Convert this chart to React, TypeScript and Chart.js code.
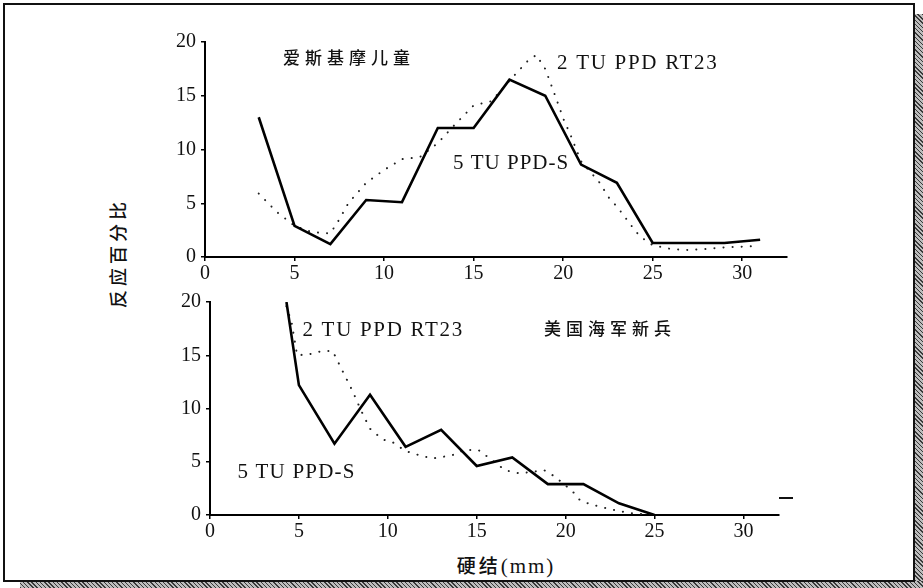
import React, { useEffect, useRef } from "react";
import { Chart, registerables } from "chart.js";

Chart.register(...registerables);

// ---------- data ----------
// Upper panel: Eskimo children
const topSolidX = [3, 5, 7, 9, 11, 13, 15, 17, 19, 21, 23, 25, 27, 29, 31];
const topSolidY = [13, 2.9, 1.2, 5.3, 5.1, 12, 12, 16.5, 15, 8.6, 6.9, 1.3, 1.3, 1.3, 1.6];
const topDotX = [3, 4, 5, 6, 7, 7.5, 8, 9, 10, 11, 12, 13, 14, 15, 16, 17, 18, 18.5, 19, 19.6, 20, 20.4, 21, 22, 22.6, 23, 23.5, 24, 24.3, 25, 26, 27, 28, 29, 30.5];
const topDotY = [5.9, 4.2, 2.9, 2.3, 2.2, 3.5, 5.0, 6.9, 8.1, 9.1, 9.3, 10.6, 12.4, 14.1, 14.5, 16.4, 18.2, 18.8, 17.5, 14.8, 12.9, 11.4, 8.9, 7.0, 5.4, 4.7, 3.6, 2.5, 1.9, 1.1, 0.75, 0.65, 0.75, 0.9, 1.0];

// Lower panel: US Navy recruits
const botSolidX = [4.3, 5, 7, 9, 11, 13, 15, 17, 19, 21, 23, 25];
const botSolidY = [20, 12.2, 6.7, 11.3, 6.4, 8, 4.6, 5.4, 2.9, 2.9, 1.1, 0];
const botDotX = [4.3, 4.6, 4.9, 5.6, 6.3, 6.9, 7.4, 8, 8.5, 9, 9.7, 10.3, 11, 11.8, 12.5, 13.6, 14.3, 15.1, 15.9, 16.6, 17.4, 18.1, 18.8, 19.4, 20.4, 20.8, 21.4, 22.5, 23.5, 25];
const botDotY = [19.6, 18, 15, 15.1, 15.4, 15.4, 13.7, 11.7, 9.8, 8.1, 7.1, 6.8, 6.0, 5.6, 5.3, 5.6, 6.1, 6.1, 5.1, 4.2, 3.9, 4.05, 4.2, 3.6, 2.2, 1.4, 1.0, 0.55, 0.2, 0];

const xTicks = [0, 5, 10, 15, 20, 25, 30];
const yTicks = [0, 5, 10, 15, 20];

const seriesSolid = "5 TU PPD-S";
const seriesDot = "2 TU PPD RT23";
const topTitle = "爱斯基摩儿童";
const botTitle = "美国海军新兵";
const yTitle = "反应百分比";
const xTitle = "硬结";
const xUnit = "(mm)";

// annotations in data coordinates
const topNotes = [
  { text: topTitle, x: 4.36, y: 18.6, cjk: true, sp: 5 },
  { text: seriesDot, x: 19.66, y: 18.0, cjk: false, sp: 1.7 },
  { text: seriesSolid, x: 13.85, y: 8.66, cjk: false, sp: 1 },
];
const botNotes = [
  { text: seriesDot, x: 5.2, y: 17.3, cjk: false, sp: 1.7 },
  { text: botTitle, x: 18.78, y: 17.5, cjk: true, sp: 5 },
  { text: seriesSolid, x: 1.54, y: 4.0, cjk: false, sp: 1.2 },
];

const SERIF = "'Liberation Serif', 'DejaVu Serif', serif";
const CJK = "'Noto Sans CJK SC', sans-serif";

const zip = (xs: number[], ys: number[]) => xs.map((x, i) => ({ x, y: ys[i] }));

const notesPlugin = {
  id: "notes",
  afterDatasetsDraw(chart: any, _args: any, opts: any) {
    const ctx = chart.ctx;
    const xs = chart.scales.x;
    const ys = chart.scales.y;
    ctx.save();
    ctx.fillStyle = "#111";
    ctx.textBaseline = "middle";
    ctx.textAlign = "left";
    for (const n of opts.items || []) {
      ctx.font = n.cjk ? `500 17px ${CJK}` : `21px ${SERIF}`;
      (ctx as any).letterSpacing = `${n.sp}px`;
      ctx.fillText(n.text, xs.getPixelForValue(n.x), ys.getPixelForValue(n.y));
    }
    ctx.restore();
  },
};

function makeConfig(solid: any[], dots: any[], xMax: number, pad: any, notes: any[]) {
  return {
    type: "line" as const,
    data: {
      datasets: [
        {
          label: seriesSolid,
          data: solid,
          borderColor: "#000",
          borderWidth: 2.6,
          pointRadius: 0,
          tension: 0,
          fill: false,
        },
        {
          label: seriesDot,
          data: dots,
          borderColor: "#222",
          borderWidth: 2,
          borderDash: [0.1, 9],
          borderCapStyle: "round",
          pointRadius: 0,
          tension: 0,
          fill: false,
        },
      ],
    },
    options: {
      animation: false,
      responsive: false,
      maintainAspectRatio: false,
      layout: { padding: pad },
      plugins: {
        legend: { display: false },
        tooltip: { enabled: false },
        notes: { items: notes },
      },
      scales: {
        x: {
          type: "linear",
          min: 0,
          max: xMax,
          afterBuildTicks: (s: any) => {
            s.ticks = xTicks.map((v) => ({ value: v }));
          },
          afterFit: (s: any) => {
            s.height = 30;
          },
          ticks: {
            color: "#111",
            font: { family: SERIF, size: 20 },
            padding: 1,
            maxRotation: 0,
            autoSkip: false,
          },
          grid: { drawOnChartArea: false, drawTicks: true, tickLength: 4, color: "#000", lineWidth: 1.5 },
          border: { display: true, color: "#000", width: 2 },
        },
        y: {
          type: "linear",
          min: 0,
          max: 20,
          afterBuildTicks: (s: any) => {
            s.ticks = yTicks.map((v) => ({ value: v }));
          },
          afterFit: (s: any) => {
            s.width = 50;
          },
          ticks: {
            color: "#111",
            font: { family: SERIF, size: 20 },
            padding: 5,
          },
          grid: { drawOnChartArea: false, drawTicks: true, tickLength: 4, color: "#000", lineWidth: 1.5 },
          border: { display: true, color: "#000", width: 2 },
        },
      },
    },
    plugins: [notesPlugin],
  };
}

function Panel(props: { left: number; top: number; width: number; height: number; cfg: any }) {
  const ref = useRef<HTMLCanvasElement | null>(null);
  useEffect(() => {
    if (!ref.current) return;
    const chart = new Chart(ref.current, props.cfg);
    return () => chart.destroy();
  }, []);
  return (
    <canvas
      ref={ref}
      width={props.width}
      height={props.height}
      style={{ position: "absolute", left: props.left, top: props.top, width: props.width, height: props.height }}
    />
  );
}

const hatch = "repeating-linear-gradient(45deg, #3a3a3a 0px, #3a3a3a 1px, #bdbdbd 1px, #bdbdbd 3px)";

export default function App() {
  const topCfg = makeConfig(zip(topSolidX, topSolidY), zip(topDotX, topDotY), 32.5, { left: 5, top: 15, right: 23, bottom: 3 }, topNotes);
  const botCfg = makeConfig(zip(botSolidX, botSolidY), zip(botDotX, botDotY), 32, { left: 5, top: 16, right: 26, bottom: 5 }, botNotes);
  return (
    <div style={{ position: "absolute", left: 0, top: 0, width: 923, height: 588, background: "#fff", overflow: "hidden" }}>
      <div style={{ position: "absolute", left: 914, top: 14, width: 9, height: 574, background: hatch }} />
      <div style={{ position: "absolute", left: 20, top: 581, width: 903, height: 7, background: hatch }} />
      <div style={{ position: "absolute", left: 3, top: 3, width: 908, height: 575, border: "2px solid #111" }} />
      <Panel left={150} top={25} width={660} height={265} cfg={topCfg} />
      <Panel left={155} top={285} width={650} height={265} cfg={botCfg} />
      <div
        style={{
          position: "absolute",
          left: 117,
          top: 253,
          transform: "translate(-50%, -50%) rotate(-90deg)",
          fontFamily: CJK,
          fontWeight: 500,
          fontSize: 18,
          letterSpacing: 4,
          whiteSpace: "nowrap",
          color: "#111",
          lineHeight: "20px",
        }}
      >
        {yTitle}
      </div>
      <div
        style={{
          position: "absolute",
          left: 506,
          top: 566,
          transform: "translate(-50%, -50%)",
          whiteSpace: "nowrap",
          color: "#111",
          lineHeight: "22px",
        }}
      >
        <span style={{ fontFamily: CJK, fontWeight: 500, fontSize: 19, letterSpacing: 3 }}>{xTitle}</span>
        <span style={{ fontFamily: SERIF, fontSize: 21, letterSpacing: 2 }}>{xUnit}</span>
      </div>
      <div style={{ position: "absolute", left: 779, top: 497, width: 14, height: 2, background: "#111" }} />
    </div>
  );
}
